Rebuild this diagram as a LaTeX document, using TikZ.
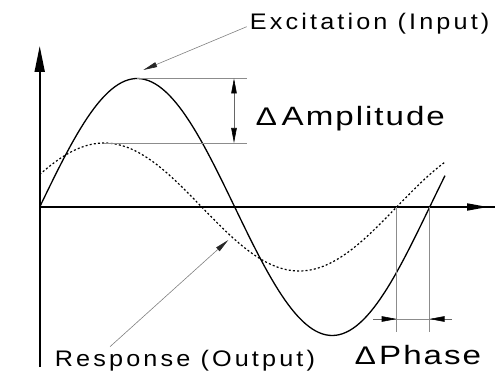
\documentclass[tikz,border=0pt]{standalone}
\usepackage{fontspec}
\setmainfont{Liberation Sans}
\newfontfamily\smallfont[LetterSpace=14,FakeStretch=1.12]{Liberation Sans}
\newfontfamily\bigfont[LetterSpace=7.5,FakeStretch=1.25]{Liberation Sans}
\usetikzlibrary{arrows.meta}
\tikzset{
  curve/.style={line width=1.3pt, black},
  resp/.style={line width=1.2pt, black, dash pattern=on 2pt off 2.2pt},
  axisline/.style={line width=1.8pt, black},
  helper/.style={line width=0.6pt, black!45},
  dimarrow/.style={line width=0.6pt, black!60, -{Triangle[length=15pt,width=5.5pt,color=black]}},
  pointer/.style={line width=0.6pt, black!50, -{Triangle[length=14pt,width=5pt,color=black!85]}},
  smalllbl/.style={anchor=base west, inner sep=0pt, font=\smallfont\fontsize{22.5}{24}\selectfont},
  biglbl/.style={anchor=base west, inner sep=0pt, font=\bigfont\fontsize{26.5}{30}\selectfont},
}
\newcommand{\deltri}[1]{\makebox[#1][l]{\fontsize{25.5}{27}\selectfont ∆}}
\begin{document}
\begin{tikzpicture}[x=1pt,y=-1pt]
\useasboundingbox (0,0) rectangle (503,387);
% axes
\coordinate (O) at (39.7,207);
\coordinate (ybot) at (39.7,367);
\coordinate (ytip) at (39.7,46);
\coordinate (xtip) at (488,207);
\coordinate (xend) at (495,207);
\draw[axisline, -{Triangle[length=26pt,width=10pt]}] (ybot) -- (ytip);
\draw[axisline] (O) -- (xend);
\draw[axisline, -{Triangle[length=21pt,width=7pt]}] (O) -- (xtip);
% curves
\draw[resp] plot[domain=39.7:445, samples=120] (\x, {207 - 64*sin(0.9230769*(\x-6.7))});
\draw[curve] plot[domain=39.7:445, samples=120] (\x, {207 - 128.5*sin(0.9230769*(\x-39.7))});
% amplitude
\coordinate (peakE) at (137.2,78.5);
\coordinate (peakR) at (104.2,143);
\coordinate (ampTopEnd) at (247,78.5);
\coordinate (ampBotEnd) at (247,143);
\coordinate (ampA) at (234,78.5);
\coordinate (ampB) at (234,143);
\coordinate (ampMid) at (234,110.75);
\draw[helper] (peakE) -- (ampTopEnd);
\draw[helper] (peakR) -- (ampBotEnd);
\draw[dimarrow] (ampMid) -- (ampA);
\draw[dimarrow] (ampMid) -- (ampB);
\node[biglbl] (amp) at (256.5,126) {\deltri{25pt}Amplitude};
% phase
\coordinate (zR) at (396.7,207);
\coordinate (zE) at (429.5,207);
\coordinate (zRb) at (396.7,332);
\coordinate (zEb) at (429.5,332);
\coordinate (ph1) at (373,319);
\coordinate (ph1t) at (396.7,319);
\coordinate (ph2) at (452,319);
\coordinate (ph2t) at (429.5,319);
\draw[helper] (zR) -- (zRb);
\draw[helper] (zE) -- (zEb);
\draw[helper] (ph1) -- (ph2);
\draw[dimarrow] (ph1) -- (ph1t);
\draw[dimarrow] (ph2) -- (ph2t);
\node[biglbl] (phase) at (355.5,364.5) {\deltri{23.5pt}Phase};
% labels and pointers
\node[smalllbl] (exc) at (249.7,30) {Excitation (Input)};
\node[smalllbl] (res) at (54.7,366) {Response (Output)};
\coordinate (excFrom) at (246.7,26.7);
\coordinate (excTip) at (143.3,70);
\coordinate (resFrom) at (110,346.7);
\coordinate (resTip) at (228.3,240);
\draw[pointer] (excFrom) -- (excTip);
\draw[pointer] (resFrom) -- (resTip);
\end{tikzpicture}
\end{document}
